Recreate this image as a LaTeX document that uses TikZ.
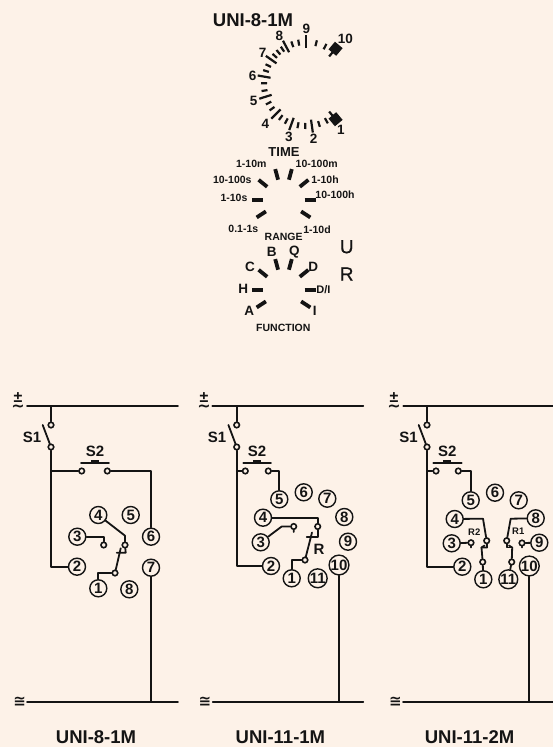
\documentclass[tikz,border=0pt]{standalone}
\usepackage{xcolor}
\usepackage{fontspec}
\setmainfont{Liberation Sans}
\newfontfamily\symfont{DejaVu Sans}
\newfontfamily\medfont[FakeBold=0.5]{Liberation Sans}
\usepackage{tikz}
\usetikzlibrary{calc}
\definecolor{panelbg}{HTML}{FDF2E8}
\definecolor{inkcol}{HTML}{141414}
\newcommand{\supplysign}{\makebox[10pt]{±}\llap{\makebox[10pt]{\raisebox{-9pt}{\symfont\bfseries\char"223C}}}}
\begin{document}
\begin{tikzpicture}[x=1pt,y=-1pt,
    wire/.style={draw=inkcol, line width=1.8pt, line cap=round, line join=round},
    numcirc/.style={circle, draw=inkcol, line width=1.4pt, fill=panelbg, inner sep=0pt, minimum size=17pt,
      text=inkcol, font=\fontsize{15}{15}\selectfont\bfseries},
    terminal/.style={circle, draw=inkcol, line width=1.6pt, fill=panelbg, inner sep=0pt, minimum size=5.5pt},
    majortick/.style={draw=inkcol, line width=2.2pt},
    minortick/.style={draw=inkcol, line width=2.2pt},
    endblock/.style={draw=inkcol, line width=10pt},
    rangetick/.style={draw=inkcol, line width=3.8pt},
    bigtext/.style={text=inkcol, inner sep=0pt, font=\fontsize{19}{19}\selectfont\medfont},
    modeltext/.style={text=inkcol, inner sep=0pt, font=\fontsize{18.5}{18.5}\selectfont\bfseries},
    switchtext/.style={text=inkcol, inner sep=0pt, font=\fontsize{15}{15}\selectfont\bfseries},
    dialnum/.style={text=inkcol, inner sep=0pt, font=\fontsize{13.5}{13.5}\selectfont\bfseries},
    smalltext/.style={text=inkcol, inner sep=0pt, font=\fontsize{10.5}{10.5}\selectfont\bfseries},
    tinytext/.style={text=inkcol, inner sep=0pt, font=\fontsize{9.5}{9.5}\selectfont\bfseries},
    supplytext/.style={text=inkcol, inner sep=0pt, font=\fontsize{16}{16}\selectfont\bfseries},
    supplysym/.style={text=inkcol, inner sep=0pt, font=\fontsize{15}{15}\selectfont\symfont\bfseries}
    ]
    \fill[panelbg] (0,0) rectangle (553,747);
    \useasboundingbox (0,0) rectangle (553,747);

    % time dial
    \node[modeltext] (dialtitle) at (253,20.5) {UNI-8-1M};
    \coordinate (timec) at (306,84);
    \foreach \ang in {50,82,110,135,162.5,190,215,242,270,310}
      \draw[majortick] ($(timec)+(\ang:36)$) -- ($(timec)+(\ang:49)$);
    \foreach \ang in {61,72,91,101,118,127,144,153,171,181,198,206,222,229,236,251,260,284,297}
      \draw[minortick] ($(timec)+(\ang:39)$) -- ($(timec)+(\ang:45)$);
    \draw[endblock] ($(timec)+(50:41)$) -- ($(timec)+(50:51)$);
    \draw[endblock] ($(timec)+(310:41)$) -- ($(timec)+(310:51)$);
    \node[dialnum] (t1) at (341,130) {1};
    \node[dialnum] (t2) at (313.7,139) {2};
    \node[dialnum] (t3) at (289,136.7) {3};
    \node[dialnum] (t4) at (265.3,124.3) {4};
    \node[dialnum] (t5) at (253.7,101) {5};
    \node[dialnum] (t6) at (252.7,76) {6};
    \node[dialnum] (t7) at (262.7,53.3) {7};
    \node[dialnum] (t8) at (279.3,36) {8};
    \node[dialnum] (t9) at (306.3,28.7) {9};
    \node[dialnum] (t10) at (345.3,39) {10};
    \node[text=inkcol, inner sep=0pt, font=\fontsize{13}{13}\selectfont\bfseries] (timelabel) at (284,152) {TIME};

    % range dial
    \coordinate (rangec) at (283.5,200);
    \coordinate (funcc) at (283.5,290);
    \foreach \ang in {0,180,-39,-75,-105,-141,33,147} {
      \draw[rangetick] ($(rangec)+(\ang:21)$) -- ($(rangec)+(\ang:32)$);
      \draw[rangetick] ($(funcc)+(\ang:21)$) -- ($(funcc)+(\ang:32)$);
    }
    \node[smalltext] (r1) at (251.3,164) {1-10m};
    \node[smalltext] (r2) at (316.7,164) {10-100m};
    \node[smalltext] (r3) at (232.3,179.7) {10-100s};
    \node[smalltext] (r4) at (325,179.7) {1-10h};
    \node[smalltext] (r5) at (234,197.7) {1-10s};
    \node[smalltext] (r6) at (335,194.7) {10-100h};
    \node[smalltext] (r7) at (243.3,229.3) {0.1-1s};
    \node[smalltext] (r8) at (317,229.3) {1-10d};
    \node[smalltext] (rangelabel) at (283.7,237) {RANGE};

    % function dial
    \node[dialnum] (fb) at (271.7,251.7) {B};
    \node[dialnum] (fq) at (294.3,251.7) {Q};
    \node[dialnum] (fc) at (250,267.3) {C};
    \node[dialnum] (fd) at (313.3,267.3) {D};
    \node[dialnum] (fh) at (243.3,289.3) {H};
    \node[smalltext, font=\fontsize{11}{11}\selectfont\bfseries] (fdi) at (323.5,290) {D/I};
    \node[dialnum] (fa) at (249.3,310.7) {A};
    \node[dialnum] (fi) at (314.7,310.7) {I};
    \node[smalltext] (funclabel) at (283.3,328.3) {FUNCTION};
    \node[bigtext] (ulabel) at (346.7,246.7) {U};
    \node[bigtext] (rlabel) at (346.7,274) {R};

    % UNI-8-1M
    \node[supplytext] (aplus) at (18,402) {\supplysign};
    \node[supplysym] (aequal) at (19.7,701.7) {\char"2245};
    \coordinate (atopl) at (27,406);
    \coordinate (atopr) at (178,406);
    \coordinate (abotl) at (27,702);
    \coordinate (abotr) at (178,702);
    \coordinate (atee) at (51,406);
    \coordinate (abtee) at (151,702);
    \coordinate (ajoin) at (51,471);
    \draw[wire] (atopl) -- (atopr);
    \draw[wire] (abotl) -- (abotr);
    \node[terminal] (as1a) at (51,425) {};
    \node[terminal] (as1b) at (51,447) {};
    \coordinate (as1e) at (42.7,425);
    \node[switchtext] (as1) at (32,437) {S1};
    \node[terminal] (as2a) at (81.7,471) {};
    \node[terminal] (as2b) at (107.3,471) {};
    \coordinate (abarl) at (81,463.3);
    \coordinate (abarr) at (109,463.3);
    \node[switchtext] (as2) at (95,451) {S2};
    \node[numcirc] (a1) at (98.3,588.3) {1};
    \node[numcirc] (a2) at (77,566.7) {2};
    \node[numcirc] (a3) at (77.3,536.7) {3};
    \node[numcirc] (a4) at (98.3,515) {4};
    \node[numcirc] (a5) at (130.7,515) {5};
    \node[numcirc] (a6) at (151,536.7) {6};
    \node[numcirc] (a7) at (151,567.7) {7};
    \node[numcirc] (a8) at (129.3,589.3) {8};
    \node[terminal] (anc) at (103.7,545) {};
    \node[terminal] (ano) at (125,545) {};
    \node[terminal] (acom) at (115,573) {};
    \coordinate (abend) at (125,535.7);
    \coordinate (ahook) at (125.7,552.7);
    \coordinate (ahooke) at (116.7,552.7);
    \coordinate (ablade) at (120.7,548.3);
    \draw[wire] (atee) -- (as1a);
    \draw[wire] (as1b) -- (as1e);
    \draw[wire] (as1b) -- (ajoin) |- (a2);
    \draw[wire] (ajoin) -- (as2a);
    \draw[wire] (abarl) -- (abarr);
    \draw[wire, line width=3pt, line cap=butt] (91,461.8) -- (99,461.8);
    \draw[wire] (as2b) -| (a6);
    \draw[wire] (a7) -- (abtee);
    \draw[wire] (a3) -| (anc);
    \draw[wire] (a4) -- (abend) -- (ano);
    \draw[wire] (ano) -- (ahook) -- (ahooke);
    \draw[wire] (acom) -- (ablade);
    \draw[wire] (acom) -| (a1);

    % UNI-11-1M
    \node[supplytext] (bplus) at (204,402) {\supplysign};
    \node[supplysym] (bequal) at (205,701.7) {\char"2245};
    \coordinate (btopl) at (212.3,406);
    \coordinate (btopr) at (363.3,406);
    \coordinate (bbotl) at (212.7,702);
    \coordinate (bbotr) at (363.3,702);
    \coordinate (btee) at (236.7,406);
    \coordinate (bbtee) at (339,702);
    \coordinate (bjoin) at (236.7,471);
    \draw[wire] (btopl) -- (btopr);
    \draw[wire] (bbotl) -- (bbotr);
    \node[terminal] (bs1a) at (236.7,425) {};
    \node[terminal] (bs1b) at (236.7,447) {};
    \coordinate (bs1e) at (228.4,425);
    \node[switchtext] (bs1) at (217,437) {S1};
    \node[terminal] (bs2a) at (245.3,471) {};
    \node[terminal] (bs2b) at (268.3,471) {};
    \coordinate (bbarl) at (243.3,463.3);
    \coordinate (bbarr) at (271,463.3);
    \node[switchtext] (bs2) at (257,451) {S2};
    \node[numcirc] (b1) at (291.7,578.3) {1};
    \node[numcirc] (b2) at (271,566) {2};
    \node[numcirc] (b3) at (260.7,542.3) {3};
    \node[numcirc] (b4) at (263,517.7) {4};
    \node[numcirc] (b5) at (279.3,499.3) {5};
    \node[numcirc] (b6) at (303.7,492.3) {6};
    \node[numcirc] (b7) at (327.3,498.7) {7};
    \node[numcirc] (b8) at (344.3,517) {8};
    \node[numcirc] (b9) at (348,541.7) {9};
    \node[numcirc] (b10) at (339,565) {10};
    \node[numcirc] (b11) at (317.7,578.3) {11};
    \node[switchtext] (brel) at (319,549) {R};
    \node[terminal] (bnc) at (293.7,526.5) {};
    \node[terminal] (bno) at (317.7,526.5) {};
    \node[terminal] (bcom) at (305,560) {};
    \coordinate (bkink) at (281.7,526.5);
    \coordinate (btail) at (293.7,532);
    \coordinate (bhook) at (317.7,536.7);
    \coordinate (bhooke) at (306.7,536.7);
    \coordinate (bblade) at (312,532.5);
    \draw[wire] (btee) -- (bs1a);
    \draw[wire] (bs1b) -- (bs1e);
    \draw[wire] (bs1b) -- (bjoin) |- (b2);
    \draw[wire] (bjoin) -- (bs2a);
    \draw[wire] (bbarl) -- (bbarr);
    \draw[wire, line width=3pt, line cap=butt] (253,461.8) -- (261,461.8);
    \draw[wire] (bs2b) -| (b5);
    \draw[wire] (b10) -- (bbtee);
    \draw[wire] (b3) -- (bkink) -- (bnc) -- (btail);
    \draw[wire] (b4) -| (bno);
    \draw[wire] (bno) -- (bhook) -- (bhooke);
    \draw[wire] (bcom) -- (bblade);
    \draw[wire] (bcom) -| (b1);

    % UNI-11-2M
    \node[supplytext] (cplus) at (394,402) {\supplysign};
    \node[supplysym] (cequal) at (395.5,701.7) {\char"2245};
    \coordinate (ctopl) at (403.3,406);
    \coordinate (ctopr) at (553,406);
    \coordinate (cbotl) at (403,702);
    \coordinate (cbotr) at (553,702);
    \coordinate (ctee) at (427,406);
    \coordinate (cbtee) at (529.3,702);
    \coordinate (cjoin) at (427,471);
    \draw[wire] (ctopl) -- (ctopr);
    \draw[wire] (cbotl) -- (cbotr);
    \node[terminal] (cs1a) at (427,425) {};
    \node[terminal] (cs1b) at (427,447) {};
    \coordinate (cs1e) at (418.7,425);
    \node[switchtext] (cs1) at (408.5,437) {S1};
    \node[terminal] (cs2a) at (436,471) {};
    \node[terminal] (cs2b) at (458.3,471) {};
    \coordinate (cbarl) at (433.3,463.3);
    \coordinate (cbarr) at (461.7,463.3);
    \node[switchtext] (cs2) at (447.3,451) {S2};
    \node[numcirc] (c1) at (483.3,579.3) {1};
    \node[numcirc] (c2) at (462.3,566.7) {2};
    \node[numcirc] (c3) at (451.7,543.3) {3};
    \node[numcirc] (c4) at (454.7,519) {4};
    \node[numcirc] (c5) at (470.7,500.3) {5};
    \node[numcirc] (c6) at (495,492.7) {6};
    \node[numcirc] (c7) at (518.7,500.3) {7};
    \node[numcirc] (c8) at (535.7,518.3) {8};
    \node[numcirc] (c9) at (539.3,542.7) {9};
    \node[numcirc] (c10) at (529.3,566) {10};
    \node[numcirc] (c11) at (508.3,579.3) {11};
    \node[tinytext] (crel2) at (474.3,531.7) {R2};
    \node[tinytext] (crel1) at (518.3,531.7) {R1};
    \node[terminal] (cnc2) at (471,542.7) {};
    \node[terminal] (cno2) at (486.7,540.7) {};
    \node[terminal] (ccom2) at (482.7,562) {};
    \node[terminal] (cnc1) at (522,543) {};
    \node[terminal] (cno1) at (506.7,540.7) {};
    \node[terminal] (ccom1) at (511.7,562) {};
    \coordinate (cbend2) at (483,518.7);
    \coordinate (cbend1) at (510.7,518.7);
    \coordinate (ctail2) at (471,547.5);
    \coordinate (ctail1) at (522,547.5);
    \coordinate (chook2) at (487,547.5);
    \coordinate (chooke2) at (481.5,547.5);
    \coordinate (chook1) at (506.7,547.5);
    \coordinate (chooke1) at (512.2,547.5);
    \coordinate (cblade2) at (484.5,545.5);
    \coordinate (cblade1) at (509,545.5);
    \draw[wire] (ctee) -- (cs1a);
    \draw[wire] (cs1b) -- (cs1e);
    \draw[wire] (cs1b) -- (cjoin) |- (c2);
    \draw[wire] (cjoin) -- (cs2a);
    \draw[wire] (cbarl) -- (cbarr);
    \draw[wire, line width=3pt, line cap=butt] (443.3,461.8) -- (451.3,461.8);
    \draw[wire] (cs2b) -| (c5);
    \draw[wire] (c10) -- (cbtee);
    \draw[wire] (c3) -- (cnc2) -- (ctail2);
    \draw[wire] (c9) -- (cnc1) -- (ctail1);
    \draw[wire] (c4) -- (cbend2) -- (cno2);
    \draw[wire] (c8) -- (cbend1) -- (cno1);
    \draw[wire] (cno2) -- (chook2) -- (chooke2);
    \draw[wire] (cno1) -- (chook1) -- (chooke1);
    \draw[wire] (ccom2) -- (chooke2) -- (cblade2);
    \draw[wire] (ccom1) -- (chooke1) -- (cblade1);
    \draw[wire] (ccom2) -- (c1);
    \draw[wire] (ccom1) -- (c11);

    % model names
    \node[modeltext] (namea) at (96,737) {UNI-8-1M};
    \node[modeltext] (nameb) at (280.4,737) {UNI-11-1M};
    \node[modeltext] (namec) at (469.5,736.8) {UNI-11-2M};
\end{tikzpicture}
\end{document}
